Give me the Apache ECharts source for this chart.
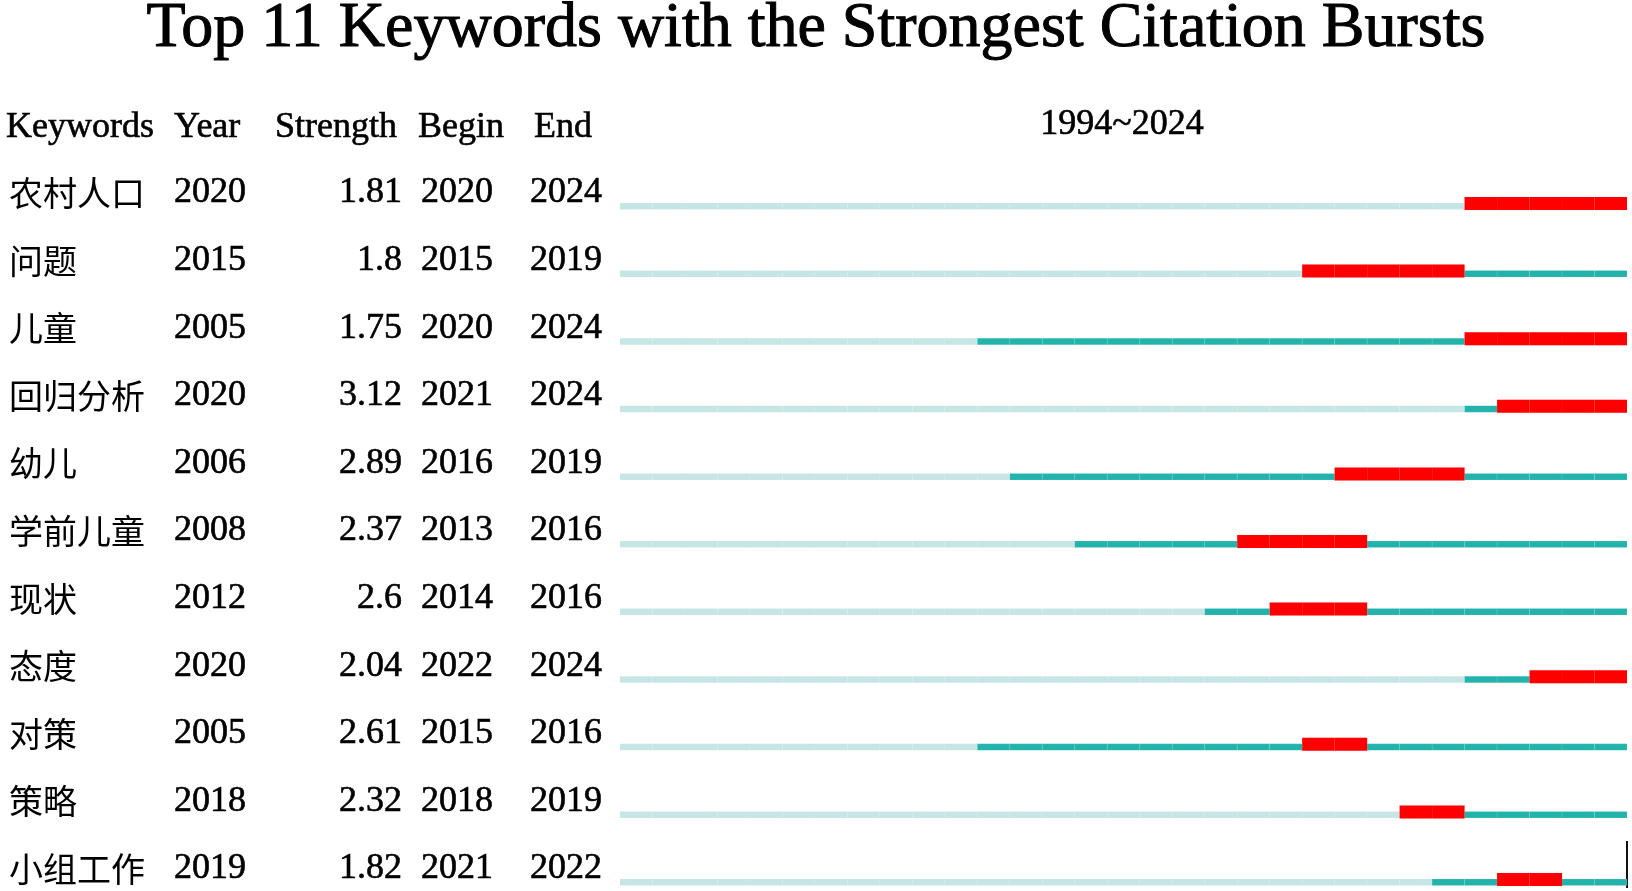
<!DOCTYPE html>
<html>
<head>
<meta charset="utf-8">
<script src="https://cdn.jsdelivr.net/npm/echarts@6/dist/echarts.min.js"></script>
<style>
html,body{margin:0;padding:0;background:#fff;}
#chart{width:1632px;height:891px;}
</style>
</head>
<body>
<div id="chart"></div>
<script>
// ---- data ----
const chartTitle = 'Top 11 Keywords with the Strongest Citation Bursts';
const columnHeaders = ['Keywords', 'Year', 'Strength', 'Begin', 'End'];
const rangeLabel = '1994~2024';
const rangeStart = 1994;
const rangeEnd = 2024;
const keywords = ['农村人口', '问题', '儿童', '回归分析', '幼儿', '学前儿童', '现状', '态度', '对策', '策略', '小组工作'];
const years = [2020, 2015, 2005, 2020, 2006, 2008, 2012, 2020, 2005, 2018, 2019];
const strengths = [1.81, 1.8, 1.75, 3.12, 2.89, 2.37, 2.6, 2.04, 2.61, 2.32, 1.82];
const begins = [2020, 2015, 2020, 2021, 2016, 2013, 2014, 2022, 2015, 2018, 2021];
const ends = [2024, 2019, 2024, 2024, 2019, 2016, 2016, 2024, 2016, 2019, 2022];

// ---- styles ----
const SERIF = "'Liberation Serif','Noto Sans CJK SC',serif";
const CJK = "'Noto Sans CJK SC',sans-serif";
const LIGHT = '#c6e5e5';
const TEAL = '#22b3ad';
const RED = '#ff0000';
const COLX = {kw: 9, year: 174, strengthRight: 402, begin: 421, end: 530};
const TEXT_DY = -13;

const rows = keywords.map((k, i) => [i, years[i], begins[i], ends[i], strengths[i]]);

const chart = echarts.init(document.getElementById('chart'), null, {renderer: 'canvas'});

function txt(text, x, y, font, align, sw) {
  return {
    type: 'text',
    style: {
      text: text, x: x, y: y, font: font, fill: '#000',
      stroke: '#000', lineWidth: sw == null ? 0.6 : sw,
      align: align, verticalAlign: 'middle',
      textAlign: align, textVerticalAlign: 'middle'
    }
  };
}

const option = {
  backgroundColor: '#fff',
  animation: false,
  grid: {left: 620, right: 5, top: 206, bottom: 9, containLabel: false},
  xAxis: {type: 'value', min: rangeStart, max: rangeEnd + 1, show: false},
  yAxis: {type: 'category', data: keywords, inverse: true, boundaryGap: false, show: false},
  graphic: [
    txt(chartTitle, 816, 29, "64px " + SERIF, 'center', 1),
    txt(columnHeaders[0], 6, 128, "36px " + SERIF, 'left'),
    txt(columnHeaders[1], 174, 128, "36px " + SERIF, 'left'),
    txt(columnHeaders[2], 275, 128, "36px " + SERIF, 'left'),
    txt(columnHeaders[3], 418, 128, "36px " + SERIF, 'left'),
    txt(columnHeaders[4], 534, 128, "36px " + SERIF, 'left'),
    txt(rangeLabel, 1122, 125, "36px " + SERIF, 'center'),
    {type: 'line', shape: {x1: 1627, y1: 841, x2: 1627, y2: 888}, style: {stroke: '#111', lineWidth: 2}}
  ],
  series: [
    {
      type: 'custom',
      name: 'bursts',
      data: rows,
      encode: {x: 1, y: 0},
      renderItem: function (params, api) {
        const idx = api.value(0);
        const yr = api.value(1);
        const b = api.value(2);
        const e = api.value(3);
        const children = [];
        const reds = [];
        for (let y = rangeStart; y <= rangeEnd; y++) {
          const p0 = api.coord([y, idx]);
          const p1 = api.coord([y + 1, idx]);
          const w = p1[0] - p0[0];
          if (y >= b && y <= e) {
            reds.push({type: 'rect', shape: {x: p0[0], y: p0[1] - 9, width: w, height: 13},
              style: {fill: RED, stroke: 'rgba(255,60,60,0.15)', lineWidth: 0.5}});
          } else {
            const c = y < yr ? LIGHT : TEAL;
            children.push({type: 'rect', shape: {x: p0[0], y: p0[1] - 3, width: w, height: 6.5},
              style: {fill: c, stroke: 'rgba(255,255,255,0.12)', lineWidth: 0.8}});
          }
        }
        return {type: 'group', children: children.concat(reds)};
      }
    },
    {
      type: 'custom',
      name: 'table',
      data: rows,
      encode: {x: 1, y: 0},
      renderItem: function (params, api) {
        const idx = api.value(0);
        const yy = api.coord([rangeStart, idx])[1] + TEXT_DY;
        const i = params.dataIndex;
        return {
          type: 'group',
          children: [
            txt(keywords[i], COLX.kw, yy, "34px " + CJK, 'left', 0),
            txt(String(years[i]), COLX.year, yy, "36px " + SERIF, 'left'),
            txt(String(strengths[i]), COLX.strengthRight, yy, "36px " + SERIF, 'right'),
            txt(String(begins[i]), COLX.begin, yy, "36px " + SERIF, 'left'),
            txt(String(ends[i]), COLX.end, yy, "36px " + SERIF, 'left')
          ]
        };
      }
    }
  ]
};
chart.setOption(option);
</script>
</body>
</html>
